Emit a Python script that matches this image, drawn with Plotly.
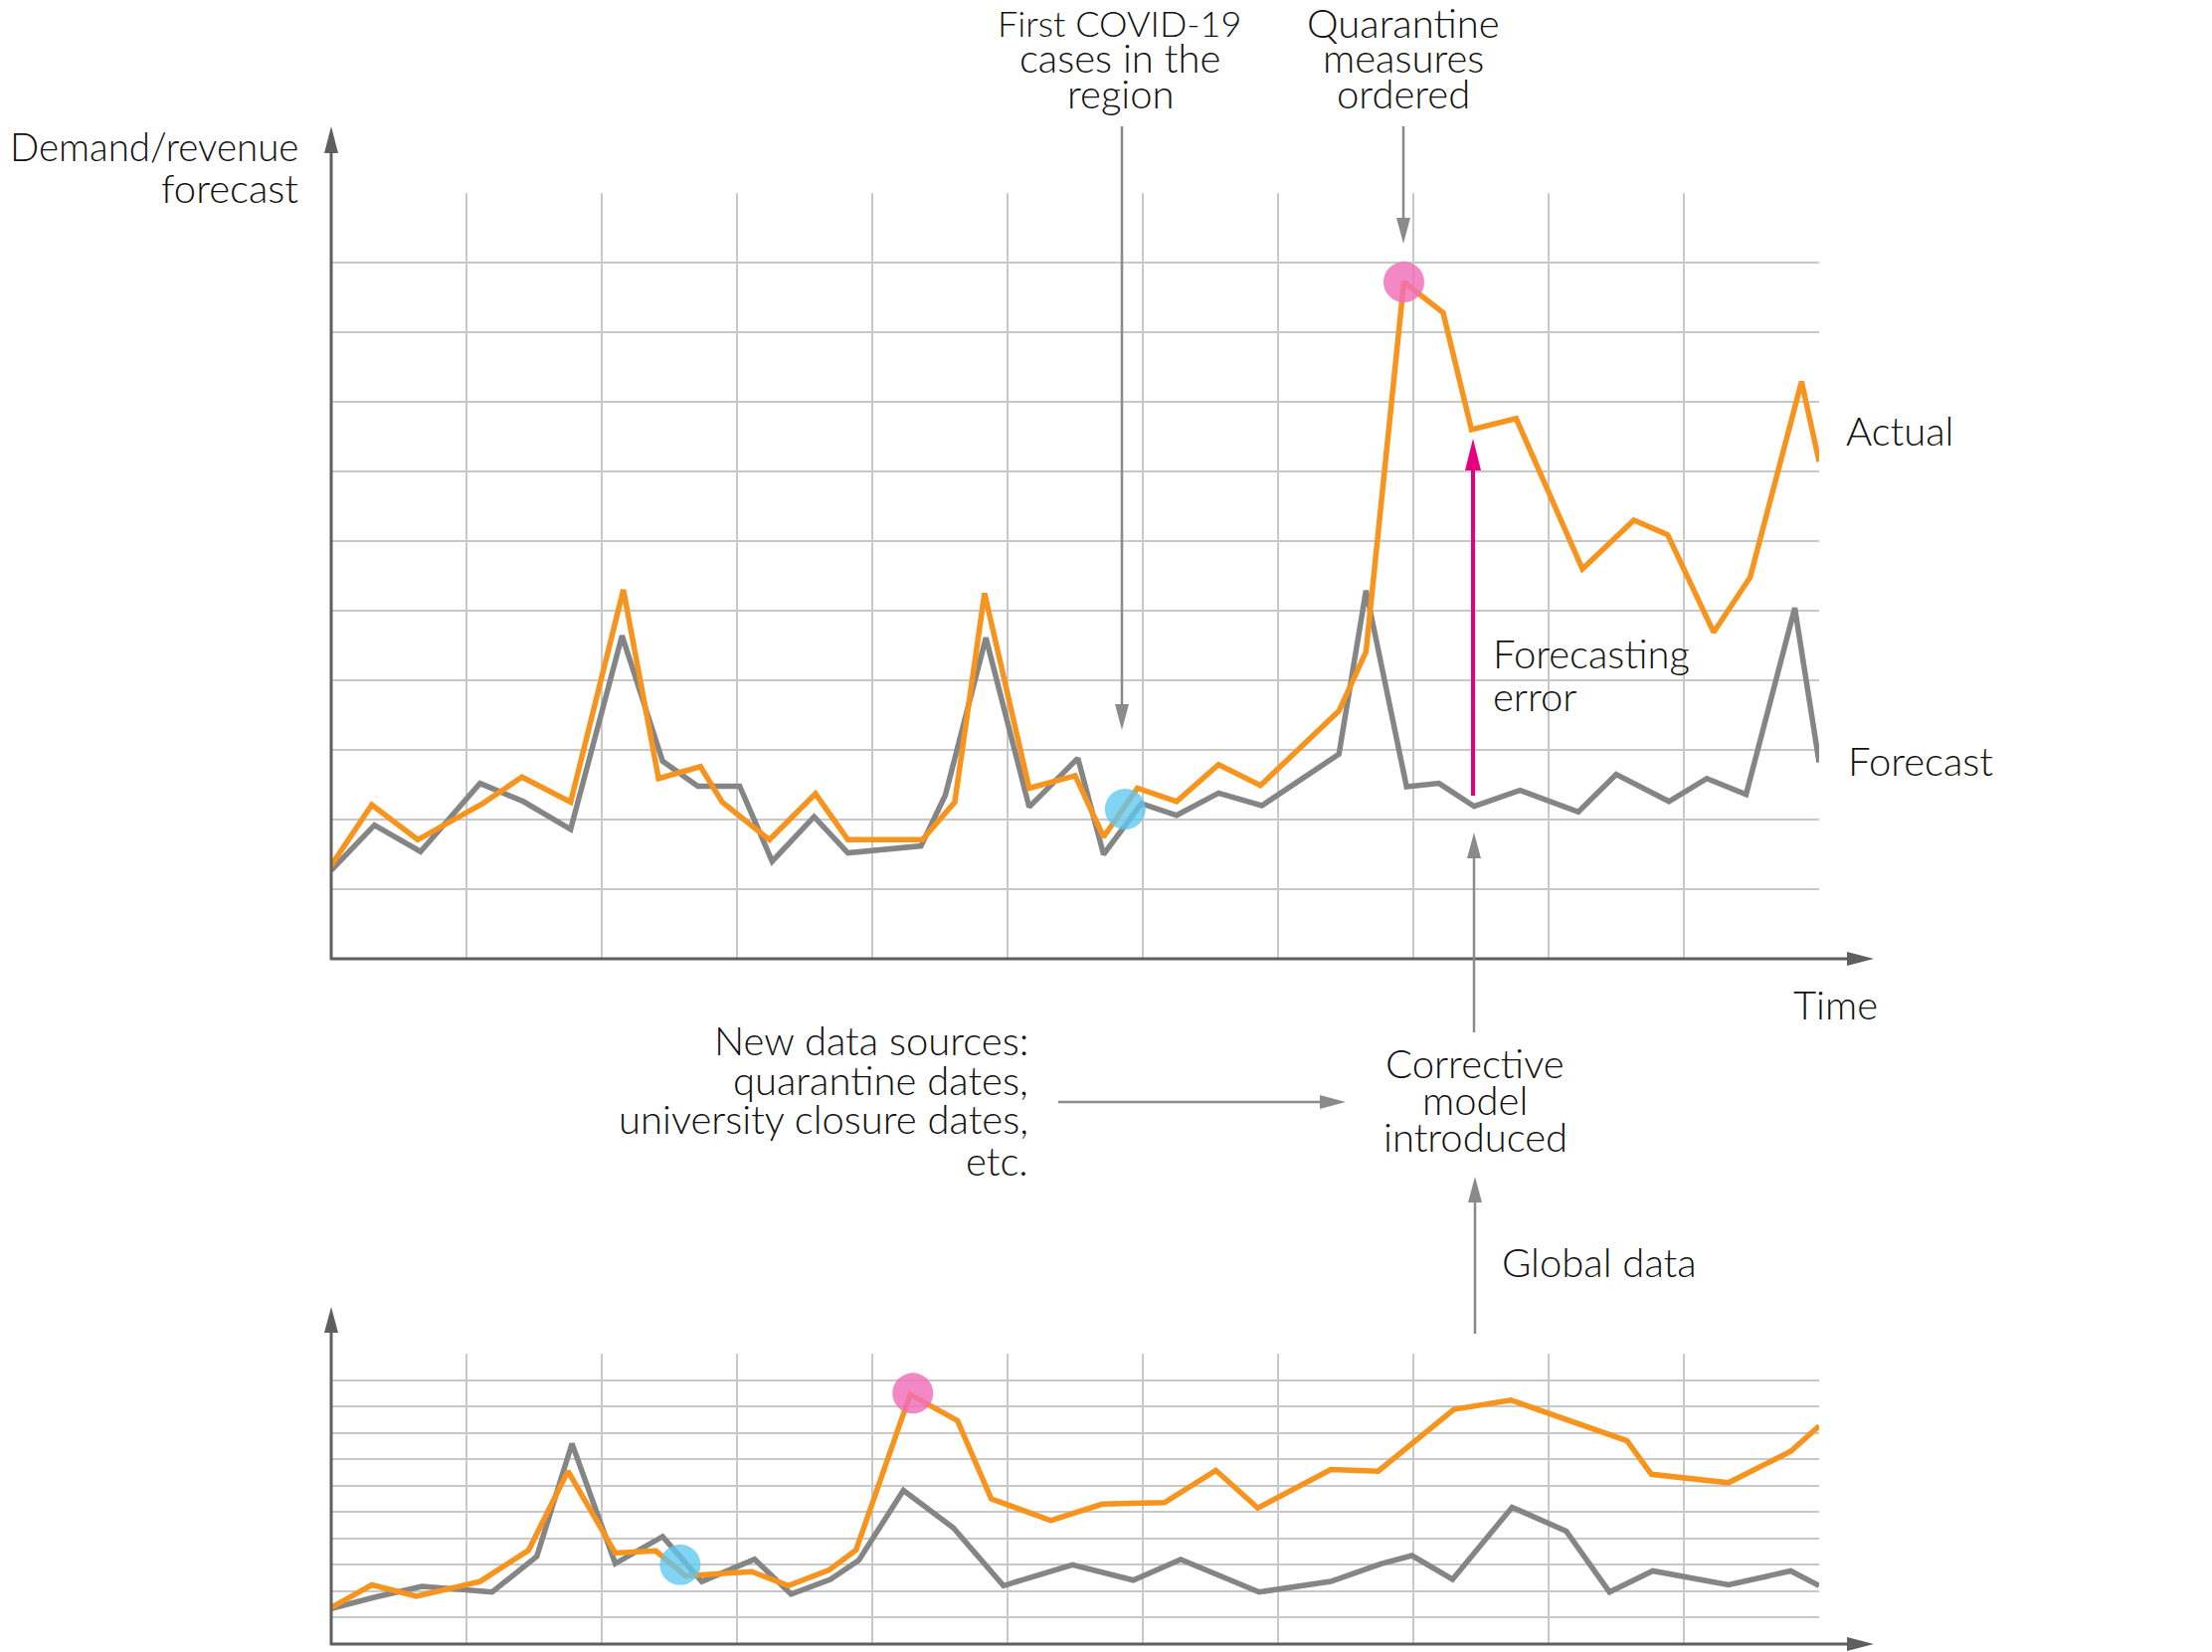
import plotly.graph_objects as go

W, H = 2224, 1661

# ---------------- data (time in grid periods, value in grid units) ----------------
top_forecast_t = [0, 0.32, 0.66, 1.10, 1.42, 1.77, 2.15, 2.45, 2.71, 3.02, 3.26, 3.57, 3.82, 4.36, 4.54,
                  4.84, 5.16, 5.52, 5.71, 5.99, 6.25, 6.56, 6.88, 7.45, 7.65, 7.95, 8.19, 8.45, 8.79,
                  9.22, 9.50, 9.89, 10.17, 10.46, 10.82, 11.0]
top_forecast_v = [1.27, 1.92, 1.54, 2.52, 2.26, 1.86, 4.64, 2.84, 2.48, 2.48, 1.40, 2.04, 1.52, 1.62, 2.35,
                  4.61, 2.18, 2.88, 1.50, 2.23, 2.06, 2.38, 2.20, 2.94, 5.29, 2.47, 2.52, 2.19, 2.42,
                  2.11, 2.65, 2.26, 2.59, 2.36, 5.04, 2.82]

top_actual_t = [0, 0.30, 0.64, 1.12, 1.41, 1.77, 2.16, 2.42, 2.73, 2.89, 3.24, 3.58, 3.82, 4.37, 4.61,
                4.83, 5.16, 5.50, 5.71, 5.96, 6.25, 6.56, 6.87, 7.45, 7.65, 7.93, 8.22, 8.43, 8.76,
                9.25, 9.63, 9.88, 10.22, 10.49, 10.87, 11.0]
top_actual_v = [1.34, 2.21, 1.71, 2.23, 2.61, 2.25, 5.30, 2.59, 2.76, 2.25, 1.71, 2.37, 1.71, 1.71, 2.25,
                5.25, 2.45, 2.63, 1.75, 2.45, 2.26, 2.79, 2.49, 3.56, 4.41, 9.72, 9.28, 7.60, 7.76,
                5.60, 6.30, 6.09, 4.69, 5.48, 8.29, 7.14]

bot_forecast_t = [0, 0.32, 0.67, 1.19, 1.52, 1.78, 2.10, 2.45, 2.74, 3.13, 3.40, 3.69, 3.90, 4.23, 4.60,
                  4.97, 5.48, 5.93, 6.28, 6.86, 7.39, 7.76, 7.99, 8.29, 8.73, 9.13, 9.45, 9.77, 10.33,
                  10.79, 11.0]
bot_forecast_v = [1.34, 1.77, 2.18, 1.97, 3.32, 7.59, 3.05, 4.07, 2.37, 3.21, 1.89, 2.45, 3.17, 5.82, 4.40,
                  2.21, 3.00, 2.42, 3.20, 1.97, 2.37, 3.04, 3.35, 2.45, 5.18, 4.28, 1.97, 2.77, 2.24,
                  2.77, 2.21]

bot_actual_t = [0, 0.30, 0.63, 1.10, 1.46, 1.75, 2.10, 2.40, 2.62, 3.11, 3.38, 3.68, 3.88, 4.28, 4.63,
                4.88, 5.32, 5.70, 6.16, 6.54, 6.85, 7.39, 7.74, 8.30, 8.72, 9.58, 9.76, 10.33, 10.79, 11.0]
bot_actual_v = [1.38, 2.24, 1.81, 2.37, 3.56, 6.55, 3.45, 3.53, 2.58, 2.74, 2.21, 2.80, 3.56, 9.45, 8.46,
                5.50, 4.68, 5.30, 5.36, 6.58, 5.15, 6.61, 6.55, 8.89, 9.24, 7.70, 6.43, 6.11, 7.30, 8.26]

# event markers: first cases (blue), quarantine ordered (pink)
top_first_cases = (5.87, 2.15)
top_quarantine = (7.93, 9.72)
bot_first_cases = (2.58, 3.00)
bot_quarantine = (4.30, 9.50)

# ---------------- styles ----------------
ORANGE = "#f7941d"
GREY_LINE = "#858585"
GRID = "#c8c8c8"
AXIS = "#5f5f5f"
ARROW = "#8a8a8a"
MAGENTA = "#e6007e"
PINK = "rgba(240,110,185,0.82)"
BLUE = "rgba(95,200,240,0.78)"
FONT = "Lato"
FS = 40


def px(x):
    return x / W


def py(y):
    return 1 - y / H


fig = go.Figure()

for xa, ya, ft, fv, at, av in [
    ("x", "y", top_forecast_t, top_forecast_v, top_actual_t, top_actual_v),
    ("x2", "y2", bot_forecast_t, bot_forecast_v, bot_actual_t, bot_actual_v),
]:
    fig.add_trace(go.Scatter(x=ft, y=fv, mode="lines", line=dict(color=GREY_LINE, width=5.5),
                             xaxis=xa, yaxis=ya, hoverinfo="skip", showlegend=False))
    fig.add_trace(go.Scatter(x=at, y=av, mode="lines", line=dict(color=ORANGE, width=5.5),
                             xaxis=xa, yaxis=ya, hoverinfo="skip", showlegend=False))

for xa, ya, pt, col in [
    ("x", "y", top_first_cases, BLUE), ("x", "y", top_quarantine, PINK),
    ("x2", "y2", bot_first_cases, BLUE), ("x2", "y2", bot_quarantine, PINK),
]:
    fig.add_trace(go.Scatter(x=[pt[0]], y=[pt[1]], mode="markers",
                             marker=dict(size=41, color=col, line=dict(width=0)),
                             xaxis=xa, yaxis=ya, hoverinfo="skip", showlegend=False))

x_dom = [px(333), px(1829)]
axis_common = dict(range=[0, 11], dtick=1, tick0=0, showgrid=True, gridcolor=GRID, gridwidth=2,
                   zeroline=False, showline=False, showticklabels=False, ticks="", fixedrange=True)

fig.update_layout(
    width=W, height=H, margin=dict(l=0, r=0, t=0, b=0),
    paper_bgcolor="white", plot_bgcolor="white",
    xaxis=dict(domain=x_dom, anchor="y", **axis_common),
    yaxis=dict(domain=[py(964), py(194)], anchor="x", **axis_common),
    xaxis2=dict(domain=x_dom, anchor="y2", **axis_common),
    yaxis2=dict(domain=[py(1653), py(1361)], anchor="x2", **axis_common),
    showlegend=False,
)

shapes = []


def line(x0, y0, x1, y1, color, width):
    shapes.append(dict(type="line", xref="paper", yref="paper", x0=px(x0), y0=py(y0), x1=px(x1), y1=py(y1),
                       line=dict(color=color, width=width), layer="above"))


def head(tipx, tipy, direction, color, length=26, half=7):
    if direction == "up":
        pts = [(tipx, tipy), (tipx - half, tipy + length), (tipx + half, tipy + length)]
    elif direction == "down":
        pts = [(tipx, tipy), (tipx - half, tipy - length), (tipx + half, tipy - length)]
    else:  # right
        pts = [(tipx, tipy), (tipx - length, tipy - half), (tipx - length, tipy + half)]
    path = "M " + " L ".join(f"{px(a):.6f},{py(b):.6f}" for a, b in pts) + " Z"
    shapes.append(dict(type="path", xref="paper", yref="paper", path=path,
                       fillcolor=color, line=dict(color=color, width=0), layer="above"))


# axes with arrowheads (top chart)
line(333, 965, 333, 150, AXIS, 3)
head(333, 127, "up", AXIS, 27, 7)
line(332, 964, 1860, 964, AXIS, 3)
head(1884, 964, "right", AXIS, 27, 7)
# axes (bottom chart)
line(333, 1654, 333, 1335, AXIS, 3)
head(333, 1314, "up", AXIS, 26, 7)
line(332, 1653, 1860, 1653, AXIS, 3)
head(1884, 1653, "right", AXIS, 27, 7)

# annotation arrows
line(1128, 127, 1128, 712, ARROW, 2.5)
head(1128, 734, "down", ARROW)
line(1411, 127, 1411, 223, ARROW, 2.5)
head(1411, 245, "down", ARROW)
line(1482, 1038, 1482, 858, ARROW, 2.5)
head(1482, 837, "up", ARROW)
line(1064, 1108, 1332, 1108, ARROW, 2.5)
head(1353, 1108, "right", ARROW)
line(1483, 1341, 1483, 1204, ARROW, 2.5)
head(1483, 1183, "up", ARROW)

# forecasting error arrow
line(1481, 800, 1481, 468, MAGENTA, 4)
head(1481, 441, "up", MAGENTA, 32, 8)

fig.update_layout(shapes=shapes)

annotations = []


def text(s, x, baseline, anchor, size=FS):
    annotations.append(dict(text=s, x=px(x), y=py(baseline - 0.325 * FS), xref="paper", yref="paper",
                            xanchor=anchor, yanchor="middle", showarrow=False, borderpad=0,
                            font=dict(family=FONT, size=size, color="#111111", weight=300)))


text("Demand/revenue", 301, 160, "right", 38.5)
text("forecast", 301, 202, "right")
text("First COVID-19", 1125, 36, "center", 36)
text("cases in the", 1126, 71, "center")
text("region", 1127, 107, "center")
text("Quarantine", 1411, 36, "center")
text("measures", 1411, 71, "center")
text("ordered", 1411, 107, "center")
text("Actual", 1855, 446, "left")
text("Forecast", 1857, 778, "left")
text("Forecasting", 1500, 670, "left")
text("error", 1500, 713, "left")
text("Time", 1889, 1023, "right")
text("New data sources:", 1035, 1059, "right")
text("quarantine dates,", 1035, 1099, "right")
text("university closure dates,", 1035, 1138, "right")
text("etc.", 1035, 1180, "right")
text("Corrective", 1483, 1082, "center")
text("model", 1483, 1119, "center")
text("introduced", 1483, 1156, "center")
text("Global data", 1509, 1282, "left")

fig.update_layout(annotations=annotations)

fig.write_html("out.html", config={"displayModeBar": False},
               post_script="document.body.style.margin='0';document.body.style.overflow='hidden';")
